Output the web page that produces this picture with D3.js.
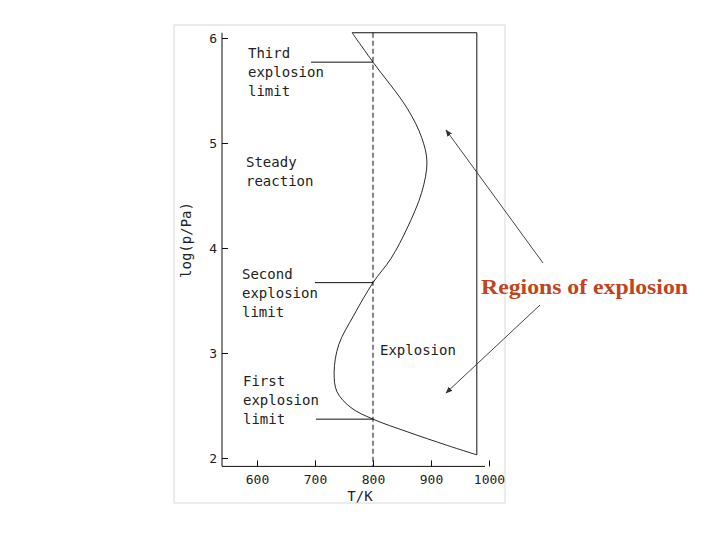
<!DOCTYPE html>
<html><head><meta charset="utf-8">
<script src="https://cdn.jsdelivr.net/npm/d3@7"></script>
<style>body{margin:0;background:#fff}</style></head>
<body><script>
const width = 720, height = 540;

// curve of explosion limits: T in K, log(p/Pa)
const curveT = [764, 800, 859, 884, 893, 884, 859, 831, 800, 767, 741, 733, 738, 762, 800, 859, 928, 979];
const curveP = [6.05, 5.77, 5.33, 5.05, 4.82, 4.53, 4.19, 3.90, 3.67, 3.36, 3.08, 2.82, 2.63, 2.48, 2.37, 2.25, 2.12, 2.03];
const xTicks = [600, 700, 800, 900, 1000];
const yTicks = [2, 3, 4, 5, 6];
const limitNames = [["Third", "explosion", "limit"], ["Second", "explosion", "limit"], ["First", "explosion", "limit"]];
const limitP = [5.77, 3.67, 2.37];

const svg = d3.select('body').append('svg').attr('width', width).attr('height', height);

const x = d3.scaleLinear().domain([600, 1000]).range([257, 489]);
const y = d3.scaleLinear().domain([2, 6]).range([458, 38]);

svg.append('rect').attr('x', 174).attr('y', 25).attr('width', 331).attr('height', 478)
  .attr('fill', '#fff').attr('stroke', '#d8d8d8');

const mono = "'DejaVu Sans Mono', monospace";
const ink = '#111';

// frame
svg.append('path').attr('fill', 'none').attr('stroke', ink)
  .attr('d', `M${x(764)},${y(6.05)}H${x(979)}V${y(2.03)}`);

const xAxis = svg.append('g').attr('transform', `translate(0,${y(1.92)})`)
  .call(d3.axisBottom(x).tickValues(xTicks).tickFormat(d3.format('d')).tickSize(-6).tickPadding(8));
xAxis.select('.domain').attr('d', `M222,0H${x(1000) - 4}`);
const yAxis = svg.append('g').attr('transform', 'translate(222,0)')
  .call(d3.axisLeft(y).tickValues(yTicks).tickFormat(d3.format('d')).tickSize(-6).tickPadding(5));
yAxis.select('.domain').attr('d', `M0,${y(6.05)}V${y(1.92)}`);
svg.selectAll('.tick text').attr('font-family', mono).attr('font-size', 13).attr('fill', '#222');
svg.selectAll('.domain, .tick line').attr('stroke', ink);

svg.append('text').attr('transform', 'translate(191,240) rotate(-90)').attr('text-anchor', 'middle')
  .attr('font-family', mono).attr('font-size', 14).attr('fill', '#222').text('log(p/Pa)');
svg.append('text').attr('x', 360).attr('y', 501).attr('text-anchor', 'middle')
  .attr('font-family', mono).attr('font-size', 14).attr('fill', '#222').text('T/K');

// dashed 800 K line
svg.append('line').attr('x1', x(800)).attr('x2', x(800)).attr('y1', y(6.05)).attr('y2', y(1.92))
  .attr('stroke', ink).attr('stroke-dasharray', '5,3');

const pts = curveT.map((t, i) => [x(t), y(curveP[i])]);
svg.append('path').attr('d', d3.line().curve(d3.curveCatmullRom)(pts))
  .attr('fill', 'none').attr('stroke', ink).attr('stroke-width', 0.9);

const labelX = [248, 242, 243];
const lineStart = [311, 315, 316];
limitP.forEach((p, i) => {
  svg.append('line').attr('x1', lineStart[i]).attr('x2', x(800)).attr('y1', y(p)).attr('y2', y(p)).attr('stroke', ink);
  const base = [58, 279, 386][i];
  limitNames[i].forEach((w, j) => {
    svg.append('text').attr('x', labelX[i]).attr('y', base + j * 19)
      .attr('font-family', mono).attr('font-size', 14).attr('fill', '#222').text(w);
  });
});
[['Steady', 246, 167], ['reaction', 246, 186], ['Explosion', 380, 355]].forEach(([t, tx, ty]) => {
  svg.append('text').attr('x', tx).attr('y', ty).attr('font-family', mono).attr('font-size', 14)
    .attr('fill', '#222').text(t);
});

// arrows
svg.append('defs').append('marker').attr('id', 'ah').attr('viewBox', '0 0 10 10')
  .attr('refX', 9).attr('refY', 5).attr('markerWidth', 7).attr('markerHeight', 7).attr('orient', 'auto')
  .append('path').attr('d', 'M0,1L10,5L0,9z').attr('fill', '#333');
[[543, 263, 446, 130], [540, 305, 446, 393]].forEach(([a, b, c, d]) => {
  svg.append('line').attr('x1', a).attr('y1', b).attr('x2', c).attr('y2', d)
    .attr('stroke', '#444').attr('marker-end', 'url(#ah)');
});
svg.append('text').attr('x', 481).attr('y', 294).attr('font-family', "'Liberation Serif', serif")
  .attr('font-weight', 'bold').attr('font-size', 21).attr('textLength', 207).attr('lengthAdjust', 'spacingAndGlyphs')
  .attr('fill', '#c0441c').text('Regions of explosion');
</script></body></html>
